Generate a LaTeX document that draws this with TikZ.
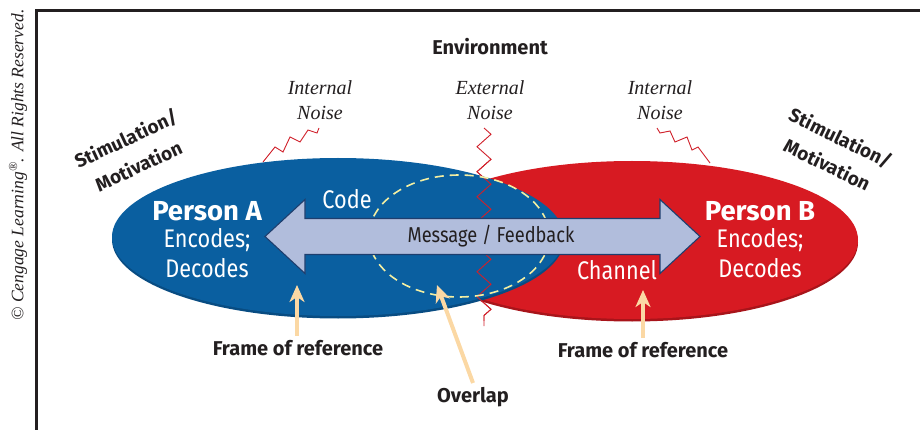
\documentclass[tikz,border=0pt]{standalone}
\usepackage{fontspec}
\setmainfont{Liberation Serif}
\newfontfamily\lblfont{Fira Sans}
\newfontfamily\condfont[FakeStretch=0.85]{Fira Sans}
\usetikzlibrary{shapes.geometric,arrows.meta,decorations.pathmorphing}
\definecolor{pblue}{HTML}{0A5FA0}
\definecolor{pbluedark}{HTML}{084C82}
\definecolor{pred}{HTML}{D71A22}
\definecolor{preddark}{HTML}{A8141A}
\definecolor{arrfill}{HTML}{B1BDDC}
\definecolor{arrline}{HTML}{1E3E6E}
\definecolor{dashyel}{HTML}{F4EFA2}
\definecolor{cream}{HTML}{FBD8A4}
\definecolor{ink}{HTML}{231F20}
\definecolor{noisered}{HTML}{D0202A}
\tikzset{
  person/.style={ellipse, minimum width=452pt, minimum height=158pt, inner sep=0pt},
  lbl/.style={font=\lblfont\bfseries\fontsize{20}{24}\selectfont, text=ink, inner sep=0pt, align=center},
  noiselbl/.style={font=\itshape\fontsize{20}{25}\selectfont, text=ink, inner sep=0pt, align=center},
  whitetitle/.style={font=\lblfont\bfseries\fontsize{27.5}{30}\selectfont, text=white, inner sep=0pt},
  whitetext/.style={font=\condfont\fontsize{25.5}{28}\selectfont, text=white, inner sep=0pt},
  zz/.style={draw=noisered, line width=0.9pt, line join=miter},
  pointer/.style={draw=cream, line width=4pt, -{Stealth[length=17pt,width=15pt,inset=5pt]}},
}
\begin{document}
\begin{tikzpicture}[x=1pt,y=-1pt]
\useasboundingbox (0,0) rectangle (920,430);
% frame
\draw[line width=3pt, ink] (36.5,430) -- (36.5,10.5) -- (920,10.5);
\node[rotate=90, font=\itshape\fontsize{17.5}{20}\selectfont, text=ink, inner sep=0pt] (copy) at (18,165)
  {© Cengage Learning\textsuperscript{®}. All Rights Reserved.};

% noise zigzags (behind)
\coordinate (ext1) at (484,128);
\coordinate (ext2) at (484,326);
\draw[zz, decorate, decoration={zigzag, segment length=25pt, amplitude=7pt}] (ext1) -- (ext2);
\draw[zz] (263,162) -- (275,147) -- (283,152) -- (290,137) -- (300,142) -- (308,130) -- (317,133) -- (319,128);
\draw[zz] (657,128) -- (660,133) -- (670,131) -- (675,142) -- (687,137) -- (692,150) -- (698,147) -- (710,163);

% ellipses
\node[person, fill=preddark] at (632,242.5) {};
\node[person, fill=pred] (B) at (632,240) {};
\node[person, fill=pbluedark] at (338,239.5) {};
\node[person, fill=pblue] (A) at (338,237) {};

% external zigzag visible over ellipses
\begin{scope}
\clip (470,160) rectangle (510,320);
\draw[zz, decorate, decoration={zigzag, segment length=25pt, amplitude=7pt}] (ext1) -- (ext2);
\end{scope}

% overlap dashed ellipse
\node[ellipse, draw=dashyel, line width=1.6pt, dash pattern=on 9pt off 6pt, minimum width=180pt, minimum height=122pt, inner sep=0pt] (ov) at (459,236) {};

% double arrow
\draw[fill=arrfill, draw=arrline, line width=1.1pt, line join=miter]
  (265,236.5) -- (305,199.5) -- (305,218.5) -- (660,218.5) -- (660,199.5) -- (700,236.5)
  -- (660,273.5) -- (660,254.5) -- (305,254.5) -- (305,273.5) -- cycle;
\node[font=\condfont\fontsize{21.5}{26}\selectfont, text=ink, inner sep=0pt] (msg) at (491,236.5) {Message / Feedback};

% labels in ellipses
\node[whitetitle] (pa) at (207,211) {Person A};
\node[whitetext] (pa1) at (207,240) {Encodes;};
\node[whitetext] (pa2) at (207,268) {Decodes};
\node[whitetitle] (pb) at (760,211) {Person B};
\node[whitetext] (pb1) at (760,240) {Encodes;};
\node[whitetext] (pb2) at (760,268) {Decodes};
\node[whitetext] (code) at (347,199) {Code};
\node[whitetext] (chan) at (617,270) {Channel};

% top labels
\node[lbl] (env) at (490,47) {Environment};
\node[noiselbl] (n1) at (320,100) {Internal\\Noise};
\node[noiselbl] (n2) at (490,100) {External\\Noise};
\node[noiselbl] (n3) at (660,100) {Internal\\Noise};
\node[lbl, rotate=25, font=\lblfont\bfseries\fontsize{19}{30}\selectfont] (stl) at (132,152) {Stimulation/\\Motivation};
\node[lbl, rotate=-26, font=\lblfont\bfseries\fontsize{19}{30}\selectfont] (str) at (834,151) {Stimulation/\\Motivation};

% bottom labels and pointers
\node[lbl] (for1) at (298,348) {Frame of reference};
\node[lbl] (for2) at (643,350) {Frame of reference};
\node[lbl] (ovl) at (473,397) {Overlap};
\coordinate (t1) at (297,285);
\coordinate (t2) at (437,285);
\coordinate (t3) at (643,290);
\draw[pointer] (for1.north -| t1) ++(0,-4) -- (t1);
\draw[pointer] (ovl.north) ++(0,-4) -- (t2);
\draw[pointer] (for2.north -| t3) ++(0,-4) -- (t3);
\end{tikzpicture}
\end{document}
